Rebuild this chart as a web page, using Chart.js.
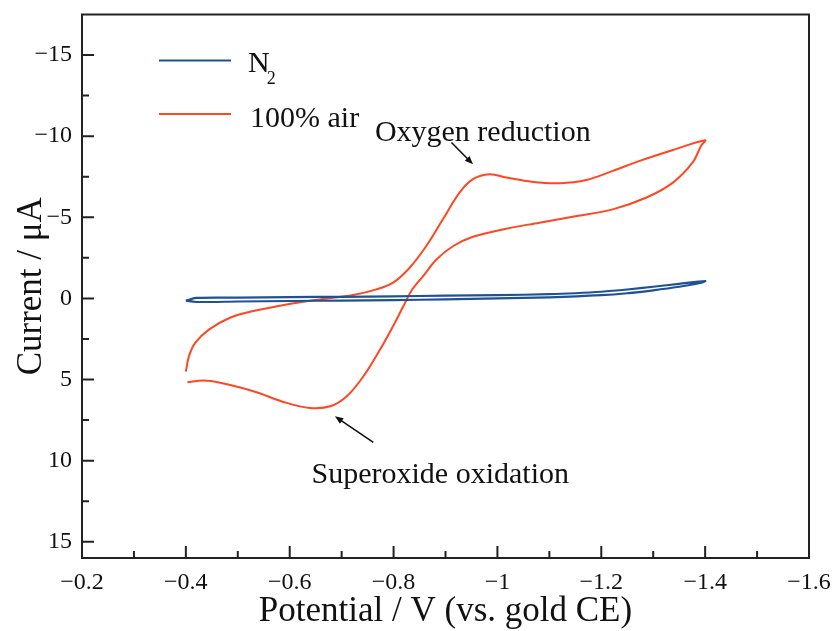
<!DOCTYPE html>
<html>
<head>
<meta charset="utf-8">
<script src="https://cdn.jsdelivr.net/npm/chart.js@4.4.1/dist/chart.umd.min.js"></script>
<style>
  body { margin: 0; background: #fff; }
  #wrap { width: 835px; height: 631px; }
</style>
</head>
<body>
<div id="wrap"><canvas id="cv" width="835" height="631"></canvas></div>
<script>
// Voltamograma ciclico: N2 contra 100% aire.

// Rama de ida (-0.4 -> -1.4 V) y de vuelta, aire
var airV = [-0.400, -0.406, -0.418, -0.445, -0.485, -0.530, -0.594, -0.658, -0.722,
    -0.767, -0.799, -0.831, -0.863, -0.895, -0.927, -0.953, -0.985, -1.017, -1.068,
    -1.120, -1.171, -1.222, -1.274, -1.338, -1.400,
    -1.392, -1.376, -1.338, -1.287, -1.222, -1.145, -1.081, -1.017, -0.953, -0.915,
    -0.883, -0.857, -0.835, -0.819, -0.799, -0.774, -0.742, -0.710, -0.678, -0.639,
    -0.594, -0.530, -0.466, -0.434, -0.403];
var airI = [4.5, 3.56, 2.74, 1.91, 1.19, 0.78, 0.37, 0.06, -0.21,
    -0.56, -0.97, -1.89, -3.23, -4.88, -6.52, -7.35, -7.65, -7.45, -7.18,
    -7.10, -7.30, -7.86, -8.48, -9.15, -9.75,
    -9.40, -8.38, -7.14, -6.22, -5.49, -5.04, -4.67, -4.30, -3.80, -3.23,
    -2.41, -1.38, -0.50, 0.47, 1.71, 3.15, 4.80, 6.03, 6.65, 6.75,
    6.44, 5.72, 5.20, 5.06, 5.17];

// Barrido en N2
var n2V = [-0.400, -0.420, -0.500, -0.600, -0.700, -0.800, -0.900, -1.000, -1.100,
    -1.150, -1.200, -1.250, -1.300, -1.350, -1.400,
    -1.390, -1.350, -1.300, -1.250, -1.200, -1.100, -1.000, -0.900, -0.800,
    -0.700, -0.600, -0.500, -0.420, -0.400];
var n2I = [0.14, -0.03, -0.05, -0.08, -0.10, -0.13, -0.17, -0.20, -0.26,
    -0.32, -0.41, -0.55, -0.72, -0.90, -1.07,
    -0.95, -0.72, -0.50, -0.32, -0.20, -0.07, 0.00, 0.06, 0.10,
    0.13, 0.16, 0.19, 0.22, 0.14];

var seriesNames = ['N', '100% air'];
var airColor = '#FF4722';
var n2Color = '#1F5294';
var serif = "'Liberation Serif', 'Times New Roman', serif";
var ink = '#111';

function toPoints(xs, ys) {
    return xs.map(function (v, i) { return { x: v, y: ys[i] }; });
}

// Formato de etiquetas con signo menos tipografico
function fmt(v) {
    var r = Math.round(v * 10) / 10;
    return (r < 0 ? '\u2212' : '') + Math.abs(r);
}

function arrow(ctx, x1, y1, x2, y2) {
    var ang = Math.atan2(y2 - y1, x2 - x1);
    var h = 9;
    ctx.beginPath();
    ctx.moveTo(x1, y1);
    ctx.lineTo(x2 - Math.cos(ang) * 5, y2 - Math.sin(ang) * 5);
    ctx.stroke();
    ctx.beginPath();
    ctx.moveTo(x2, y2);
    ctx.lineTo(x2 - h * Math.cos(ang - 0.38), y2 - h * Math.sin(ang - 0.38));
    ctx.lineTo(x2 - h * Math.cos(ang + 0.38), y2 - h * Math.sin(ang + 0.38));
    ctx.closePath();
    ctx.fill();
}

// Marco, ticks hacia dentro, leyenda y anotaciones
var decor = {
    id: 'decor',
    afterDraw: function (chart) {
        var ctx = chart.ctx, a = chart.chartArea;
        var x = chart.scales.x, y = chart.scales.y;
        ctx.save();
        ctx.strokeStyle = '#222';
        ctx.fillStyle = ink;
        ctx.lineWidth = 2;
        ctx.strokeRect(a.left, a.top, a.right - a.left, a.bottom - a.top);

        ctx.beginPath();
        for (var i = 1; i < 14; i++) {
            var px = x.getPixelForValue(-0.2 - i * 0.1);
            var len = (i % 2 === 0) ? 12 : 7;
            ctx.moveTo(px, a.bottom);
            ctx.lineTo(px, a.bottom - len);
        }
        for (var j = -6; j <= 6; j++) {
            var v = j * 2.5;
            var py = y.getPixelForValue(v);
            var l2 = (j % 2 === 0) ? 12 : 7;
            ctx.moveTo(a.left, py);
            ctx.lineTo(a.left + l2, py);
        }
        ctx.stroke();

        // leyenda
        ctx.lineWidth = 2;
        ctx.strokeStyle = n2Color;
        ctx.beginPath();
        ctx.moveTo(a.left + 77, a.top + 46);
        ctx.lineTo(a.left + 149, a.top + 46);
        ctx.stroke();
        ctx.strokeStyle = airColor;
        ctx.beginPath();
        ctx.moveTo(a.left + 77, a.top + 99.5);
        ctx.lineTo(a.left + 149, a.top + 99.5);
        ctx.stroke();

        ctx.textAlign = 'left';
        ctx.textBaseline = 'alphabetic';
        ctx.font = '30px ' + serif;
        ctx.fillText(seriesNames[0], a.left + 166, a.top + 57.5);
        var nw = ctx.measureText(seriesNames[0]).width;
        ctx.font = '18px ' + serif;
        ctx.fillText('2', a.left + 166 + nw - 3, a.top + 69);
        ctx.font = '30px ' + serif;
        ctx.fillText(seriesNames[1], a.left + 168, a.top + 112.5);

        // anotaciones (en coordenadas de datos)
        ctx.font = '30px ' + serif;
        ctx.fillText('Oxygen reduction', x.getPixelForValue(-0.764), y.getPixelForValue(-9.7));
        ctx.fillText('Superoxide oxidation', x.getPixelForValue(-0.642), y.getPixelForValue(11.4));
        ctx.strokeStyle = ink;
        ctx.lineWidth = 1.6;
        arrow(ctx, x.getPixelForValue(-0.9115), y.getPixelForValue(-9.61),
            x.getPixelForValue(-0.953), y.getPixelForValue(-8.27));
        arrow(ctx, x.getPixelForValue(-0.761), y.getPixelForValue(8.87),
            x.getPixelForValue(-0.687), y.getPixelForValue(7.27));
        ctx.restore();
    }
};

function noPad(s) {
    s.paddingLeft = 0; s.paddingRight = 0; s.paddingTop = 0; s.paddingBottom = 0;
}

var chart = new Chart(document.getElementById('cv').getContext('2d'), {
    type: 'line',
    data: {
        datasets: [{
            label: 'N2',
            data: toPoints(n2V, n2I),
            borderColor: n2Color,
            borderWidth: 2.2,
            pointRadius: 0,
            tension: 0.3,
            fill: false
        }, {
            label: '100% air',
            data: toPoints(airV, airI),
            borderColor: airColor,
            borderWidth: 2,
            pointRadius: 0,
            tension: 0.35,
            fill: false
        }]
    },
    options: {
        responsive: false,
        animation: false,
        layout: { padding: { left: 0, right: 26, top: 14.5, bottom: 0 } },
        plugins: { legend: { display: false }, tooltip: { enabled: false } },
        scales: {
            x: {
                type: 'linear',
                reverse: true,
                min: -1.6,
                max: -0.2,
                ticks: { stepSize: 0.2, padding: 10, color: ink, font: { family: serif, size: 24 }, callback: fmt },
                grid: { display: false, drawTicks: false },
                border: { display: false },
                title: {
                    display: true, text: 'Potential / V (vs. gold CE)', color: ink,
                    font: { family: serif, size: 35 }, padding: { top: 0, bottom: -2 }
                },
                afterFit: function (s) { s.height = 73; noPad(s); }
            },
            y: {
                type: 'linear',
                reverse: true,
                min: -17.5,
                max: 16,
                ticks: { stepSize: 5, includeBounds: false, padding: 10, color: ink, font: { family: serif, size: 24 }, callback: fmt },
                grid: { display: false, drawTicks: false },
                border: { display: false },
                title: {
                    display: true, text: 'Current / \u03bcA', color: ink,
                    font: { family: serif, size: 35 }, padding: { top: 11, bottom: 0 }
                },
                afterFit: function (s) { s.width = 82; noPad(s); }
            }
        }
    },
    plugins: [decor]
});
</script>
</body>
</html>
